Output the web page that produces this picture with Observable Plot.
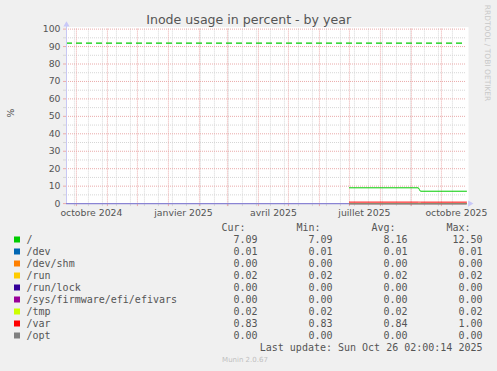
<!DOCTYPE html>
<html><head><meta charset="utf-8">
<script src="https://cdn.jsdelivr.net/npm/d3@7"></script>
<script src="https://cdn.jsdelivr.net/npm/@observablehq/plot@0.6"></script>
<style>
html,body{margin:0;padding:0;background:#f0f0f0;}
</style></head><body><div id="chart"></div>
<script>
const title = "Inode usage in percent - by year";
const yLabel = "%";
const watermark = "RRDTOOL / TOBI OETIKER";
const lastUpdate = "Last update: Sun Oct 26 02:00:14 2025";
const version = "Munin 2.0.67";
const columnHeaders = ["Cur:", "Min:", "Avg:", "Max:"];

const seriesNames = ["/", "/dev", "/dev/shm", "/run", "/run/lock", "/sys/firmware/efi/efivars", "/tmp", "/var", "/opt"];
const seriesColors = ["#00cc00", "#0066b3", "#ff8000", "#ffcc00", "#330099", "#990099", "#ccff00", "#ff0000", "#808080"];
const curValues = ["7.09", "0.01", "0.00", "0.02", "0.00", "0.00", "0.02", "0.83", "0.00"];
const minValues = ["7.09", "0.01", "0.00", "0.02", "0.00", "0.00", "0.02", "0.83", "0.00"];
const avgValues = ["8.16", "0.01", "0.00", "0.02", "0.00", "0.00", "0.02", "0.84", "0.00"];
const maxValues = ["12.50", "0.01", "0.00", "0.02", "0.00", "0.00", "0.02", "1.00", "0.00"];

// sample dates (data exists from July 2025)
const seriesDates = ["2025-07-01 00:00", "2025-09-08 00:00", "2025-09-09 00:00", "2025-09-10 00:00", "2025-10-26 02:00"];
const rootValues = [9.05, 9.05, 8.0, 7.09, 7.09];
const devValues = [0.01, 0.01, 0.01, 0.01, 0.01];
const devShmValues = [0, 0, 0, 0, 0];
const runValues = [0.02, 0.02, 0.02, 0.02, 0.02];
const runLockValues = [0, 0, 0, 0, 0];
const efivarsValues = [0, 0, 0, 0, 0];
const tmpValues = [0.02, 0.02, 0.02, 0.02, 0.02];
const varValues = [0.85, 0.85, 0.84, 0.83, 0.83];
const optValues = [0, 0, 0, 0, 0];

const warningLevel = 92;
const domainStart = "2024-09-21 02:00";
const domainEnd = "2025-10-26 02:00";
const monthLabelDates = ["2024-10-16", "2025-01-16", "2025-04-16", "2025-07-16", "2025-10-16"];
const monthLabels = ["octobre 2024", "janvier 2025", "avril 2025", "juillet 2025", "octobre 2025"];
const monthStarts = ["2024-10-01", "2024-11-01", "2024-12-01", "2025-01-01", "2025-02-01", "2025-03-01", "2025-04-01",
  "2025-05-01", "2025-06-01", "2025-07-01", "2025-08-01", "2025-09-01", "2025-10-01"];
const minorGridDates = ["2024-09-29", "2024-10-13", "2024-10-27", "2024-11-10", "2024-11-24", "2024-12-08", "2024-12-22",
  "2025-01-05", "2025-01-19", "2025-02-02", "2025-02-16", "2025-03-02", "2025-03-16", "2025-03-30", "2025-04-13",
  "2025-04-27", "2025-05-11", "2025-05-25", "2025-06-08", "2025-06-22", "2025-07-06", "2025-07-20", "2025-08-03",
  "2025-08-17", "2025-08-31", "2025-09-14", "2025-09-28", "2025-10-12"];
const yMajorTicks = [0, 10, 20, 30, 40, 50, 60, 70, 80, 90, 100];
const yMinorTicks = [5, 15, 25, 35, 45, 55, 65, 75, 85, 95];

const parseT = d3.timeParse("%Y-%m-%d %H:%M");
const parseD = d3.timeParse("%Y-%m-%d");
const seriesValues = [rootValues, devValues, devShmValues, runValues, runLockValues, efivarsValues, tmpValues, varValues, optValues];
const drawOrder = [0, 1, 2, 3, 4, 5, 6, 8, 7];
const lineData = drawOrder.flatMap(i => seriesDates.map((d, j) => ({date: parseT(d), value: seriesValues[i][j], name: seriesNames[i]})));
const xStart = parseT(domainStart), xEnd = parseT(domainEnd);
const labelDates = monthLabelDates.map(parseD);
const labelByTime = new Map(labelDates.map((d, i) => [+d, monthLabels[i]]));
const majorX = monthStarts.map(parseD);
const minorX = minorGridDates.map(parseD);

const gridRed = "#eaaaaa", gridGray = "#d6d6d6", textColor = "#555";

const plot = Plot.plot({
  width: 497, height: 371,
  marginLeft: 66, marginRight: 31, marginTop: 28.6, marginBottom: 167.9,
  style: {background: "#f0f0f0", fontFamily: "DejaVu Sans", fontSize: "9.3px", color: textColor, overflow: "visible"},
  x: {type: "time", domain: [xStart, xEnd]},
  y: {domain: [0, 100]},
  color: {domain: seriesNames, range: seriesColors},
  marks: [
    Plot.frame({fill: "white", stroke: null, insetTop: -2, insetRight: -2}),
    Plot.ruleX(minorX, {stroke: gridGray, strokeDasharray: "1,1"}),
    Plot.ruleY(yMinorTicks, {stroke: gridGray, strokeDasharray: "1,1"}),
    Plot.ruleX(majorX, {stroke: gridRed, strokeDasharray: "1,1"}),
    Plot.ruleY(yMajorTicks.slice(1), {stroke: gridRed, strokeDasharray: "1,1"}),
    Plot.axisY(yMinorTicks, {tickSize: 3, tickFormat: () => "", stroke: gridGray, label: null}),
    Plot.axisY(yMajorTicks, {tickSize: 3, tickPadding: 3, stroke: gridRed, fill: textColor, label: null}),
    Plot.axisX(minorX, {tickSize: 3, tickFormat: () => "", stroke: gridGray, label: null}),
    Plot.axisX(majorX, {tickSize: 3, tickFormat: () => "", stroke: gridRed, label: null}),
    Plot.axisX(labelDates, {tickSize: 0, tickPadding: 6, tickFormat: d => labelByTime.get(+d), fill: textColor, label: null}),
    Plot.ruleY([warningLevel], {stroke: "#00cc00", strokeDasharray: "6,4", strokeWidth: 1.3}),
    Plot.ruleX([xStart], {stroke: "#c8c8f4", insetTop: -3}),
    Plot.ruleY([0], {stroke: "#8a84d4", strokeWidth: 1.2}),
    Plot.line(lineData, {x: "date", y: "value", z: "name", stroke: "name", strokeWidth: 1}),
    Plot.dot([0], {x: () => xStart, y: () => 100, symbol: "triangle", r: 2.3, fill: "#c8c8f8", stroke: null, dy: -4.3}),
    Plot.dot([0], {x: () => xEnd, y: () => 0, symbol: "triangle", r: 2.3, fill: "#c8c8f8", stroke: null, dx: 3.4, rotate: 90})
  ]
});
document.getElementById("chart").appendChild(plot);

const svg = d3.select(plot);
const g = svg.append("g").attr("text-anchor", "start");
g.append("text").attr("x", 248.7).attr("y", 23.5).attr("text-anchor", "middle")
  .style("font-family", "DejaVu Sans").style("font-size", "12.6px").attr("fill", textColor).text(title);
g.append("text").attr("transform", "translate(10.5,113) rotate(-90)").attr("text-anchor", "middle").attr("dy", "0.35em")
  .style("font-family", "DejaVu Sans").style("font-size", "9.3px").attr("fill", textColor).text(yLabel);
g.append("text").attr("transform", "translate(488,53) rotate(90)").attr("text-anchor", "middle").attr("dy", "0.35em")
  .style("font-family", "DejaVu Sans").style("font-size", "7.5px").attr("fill", "#c8c8c8").text(watermark);

const mono = s => s.style("font-family", "DejaVu Sans Mono").style("font-size", "10px").attr("fill", textColor);
const colRight = [257.5, 332.5, 407.5, 482.5];
const headerY = 227.5, rowY0 = 239.5, rowStep = 12;
columnHeaders.forEach((h, c) => {
  mono(g.append("text").attr("x", colRight[c] - 12).attr("y", headerY).attr("dy", "0.35em").attr("text-anchor", "end").text(h));
});
const cols = [curValues, minValues, avgValues, maxValues];
seriesNames.forEach((name, i) => {
  const y = rowY0 + i * rowStep;
  g.append("rect").attr("x", 14).attr("y", y - 3).attr("width", 6).attr("height", 6).attr("fill", seriesColors[i]);
  mono(g.append("text").attr("x", 26.5).attr("y", y).attr("dy", "0.35em").attr("text-anchor", "start").text(name));
  cols.forEach((arr, c) => {
    mono(g.append("text").attr("x", colRight[c]).attr("y", y).attr("dy", "0.35em").attr("text-anchor", "end").text(arr[i]));
  });
});
mono(g.append("text").attr("x", colRight[3]).attr("y", 347.5).attr("dy", "0.35em").attr("text-anchor", "end").text(lastUpdate));
g.append("text").attr("x", 245).attr("y", 360).attr("dy", "0.35em").attr("text-anchor", "middle")
  .style("font-family", "DejaVu Sans").style("font-size", "7px").attr("fill", "#c0c0c0").text(version);
</script></body></html>
